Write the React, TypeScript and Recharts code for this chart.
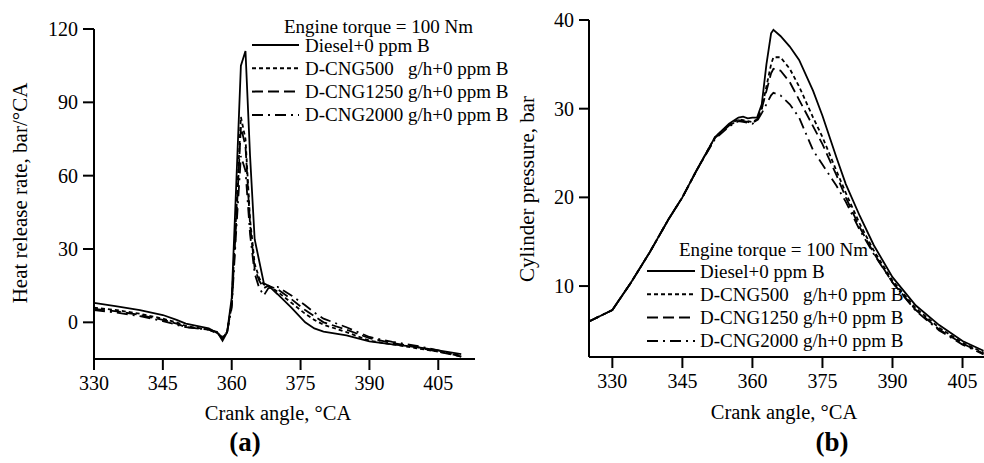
import React from 'react';
import { LineChart, Line, XAxis, YAxis } from 'recharts';

const SERIES_NAMES = [
  'Diesel+0 ppm B',
  'D-CNG500   g/h+0 ppm B',
  'D-CNG1250 g/h+0 ppm B',
  'D-CNG2000 g/h+0 ppm B',
];
const LEGEND_TITLE = 'Engine torque = 100 Nm';
const X_LABEL = 'Crank angle, °CA';
const HRR_Y_LABEL = 'Heat release rate, bar/°CA';
const P_Y_LABEL = 'Cylinder pressure, bar';

const CA_TICKS = [330, 345, 360, 375, 390, 405];
const HRR_TICKS = [0, 30, 60, 90, 120];
const P_TICKS = [10, 20, 30, 40];

// Heat release rate (a)
const HRR_CA = [330, 335, 340, 345, 348, 350, 355, 357, 358, 359, 360, 361, 362, 363, 364, 365, 366, 367, 368, 370, 373, 376, 378, 380, 385, 390, 395, 400, 405, 410];
const HRR_DIESEL = [8, 6.5, 5, 3, 1, -0.5, -2.5, -4.5, -7.5, -4, 10, 57, 105, 111, 68, 34, 25, 16, 15, 11.5, 6, 0, -2.5, -3.8, -5.3, -7.8, -9, -10, -11.5, -13];
const HRR_CNG500 = [6, 5, 3.5, 1.5, 0, -1.5, -3, -4.5, -6.5, -4, 8, 45, 84, 75, 42, 24, 18, 15.5, 15, 12.5, 8, 3.5, 1, -1, -4, -7.5, -9, -10.5, -12, -13.5];
const HRR_CNG1250 = [5.5, 4.5, 3, 1, -0.5, -2, -3, -4.5, -6.5, -4, 7, 42, 80, 72, 40, 22, 17, 14, 15, 13.5, 9.5, 5, 2.5, 0, -3, -6.5, -8.5, -10, -12, -14];
const HRR_CNG2000 = [5, 4, 2.5, 0.5, -1, -2, -3, -4, -6, -4, 6, 38, 68, 62, 36, 20, 14, 11, 14, 14.5, 11, 7, 4, 1.5, -2, -6, -8, -9.5, -11.5, -14];

// Cylinder pressure (b)
const P_CA = [325, 330, 334, 338, 342, 345, 348, 352, 355, 357, 358, 359, 360, 361, 362, 363, 364, 364.5, 366, 368, 370, 373, 375, 378, 380, 383, 386, 390, 395, 400, 405, 409.5];
const P_DIESEL = [6, 7.3, 10.4, 13.8, 17.5, 20, 23, 26.8, 28.3, 29, 29.1, 28.9, 29, 29, 30.5, 35, 38.5, 38.9, 38.2, 37, 35.5, 32, 29.2, 24.5, 21.5, 17.9, 14.6, 11, 7.8, 5.6, 3.8, 2.7];
const P_CNG500 = [6, 7.3, 10.4, 13.8, 17.5, 20, 23, 26.8, 28.2, 28.8, 28.7, 28.6, 28.5, 28.8, 30, 32.5, 35, 35.8, 35.8, 34.5, 32.5, 29, 26.8, 23, 20.5, 17, 14, 10.6, 7.5, 5.3, 3.6, 2.5];
const P_CNG1250 = [6, 7.3, 10.4, 13.8, 17.5, 20, 23, 26.7, 28.1, 28.7, 28.6, 28.5, 28.4, 28.7, 30, 32, 34, 34.5, 34.3, 33, 31, 28, 26, 22.5, 20, 16.6, 13.7, 10.4, 7.3, 5.1, 3.5, 2.4];
const P_CNG2000 = [6, 7.3, 10.4, 13.8, 17.5, 20, 23, 26.6, 28, 28.6, 28.5, 28.4, 28.3, 28.6, 29.5, 30.5, 31.5, 31.8, 31.5, 30.5, 29, 25.3, 23.7, 21.3, 19.5, 16.3, 13.6, 10.4, 7.2, 5, 3.4, 2.3];

const DASHES = ['', '4 3', '11 5', '11 5 2 5'];
const FONT = '"Liberation Serif", "Times New Roman", serif';
const INK = '#000';

const build = (angles: number[], vals: number[]) => angles.map((ca, i) => ({ ca, v: vals[i] }));

const HRR_SERIES = [HRR_DIESEL, HRR_CNG500, HRR_CNG1250, HRR_CNG2000].map((v) => build(HRR_CA, v));
const P_SERIES = [P_DIESEL, P_CNG500, P_CNG1250, P_CNG2000].map((v) => build(P_CA, v));

const tickStyle = { fill: INK, fontSize: 20, fontFamily: FONT };
const axisLineStyle = { stroke: INK, strokeWidth: 2 };

function Legend({ x, y, lineX1, lineX2, textX, rowStart, rowGap }: any) {
  return (
    <g>
      <text x={x} y={y} dominantBaseline="central" fontSize={19} fontFamily={FONT} fill={INK}>
        {LEGEND_TITLE}
      </text>
      {SERIES_NAMES.map((name, i) => {
        const ry = rowStart + i * rowGap;
        return (
          <g key={name}>
            <line x1={lineX1} x2={lineX2} y1={ry} y2={ry} stroke={INK} strokeWidth={2} strokeDasharray={DASHES[i] || undefined} />
            <text x={textX} y={ry} dominantBaseline="central" fontSize={19} fontFamily={FONT} fill={INK} style={{ whiteSpace: 'pre' }}>
              {name}
            </text>
          </g>
        );
      })}
    </g>
  );
}

export default function App() {
  return (
    <div style={{ position: 'absolute', left: 0, top: 0, width: 984, height: 463, background: '#fff', overflow: 'hidden' }}>
      <div style={{ position: 'absolute', left: 0, top: 0 }}>
        <LineChart width={490} height={463} margin={{ top: 29, right: 15, bottom: 74, left: 34 }} style={{ fontFamily: FONT }}>
          <XAxis
            type="number"
            dataKey="ca"
            domain={[330, 413]}
            ticks={CA_TICKS}
            allowDataOverflow
            tick={tickStyle}
            tickSize={11}
            tickMargin={6}
            axisLine={axisLineStyle}
            tickLine={axisLineStyle}
            height={30}
          />
          <YAxis
            type="number"
            dataKey="v"
            domain={[-15, 120]}
            ticks={HRR_TICKS}
            allowDataOverflow
            tick={tickStyle}
            tickSize={11}
            tickMargin={5}
            axisLine={axisLineStyle}
            tickLine={axisLineStyle}
            width={60}
          />
          {HRR_SERIES.map((d, i) => (
            <Line
              key={i}
              data={d}
              dataKey="v"
              type="linear"
              stroke={INK}
              strokeWidth={1.8}
              strokeDasharray={DASHES[i] || undefined}
              dot={false}
              isAnimationActive={false}
            />
          ))}
        </LineChart>
      </div>
      <div style={{ position: 'absolute', left: 490, top: 0 }}>
        <LineChart width={494} height={463} margin={{ top: 20, right: 0, bottom: 76, left: 39 }} style={{ fontFamily: FONT }}>
          <XAxis
            type="number"
            dataKey="ca"
            domain={[325, 409.6]}
            ticks={CA_TICKS}
            allowDataOverflow
            tick={tickStyle}
            tickSize={11}
            tickMargin={6}
            axisLine={axisLineStyle}
            tickLine={axisLineStyle}
            height={30}
          />
          <YAxis
            type="number"
            dataKey="v"
            domain={[2, 40]}
            ticks={P_TICKS}
            allowDataOverflow
            tick={tickStyle}
            tickSize={10}
            tickMargin={5}
            axisLine={axisLineStyle}
            tickLine={axisLineStyle}
            width={60}
          />
          {P_SERIES.map((d, i) => (
            <Line
              key={i}
              data={d}
              dataKey="v"
              type="linear"
              stroke={INK}
              strokeWidth={1.8}
              strokeDasharray={DASHES[i] || undefined}
              dot={false}
              isAnimationActive={false}
            />
          ))}
        </LineChart>
      </div>
      <svg width={984} height={463} style={{ position: 'absolute', left: 0, top: 0, pointerEvents: 'none' }}>
        <Legend x={284} y={26} lineX1={252} lineX2={299} textX={305} rowStart={45} rowGap={23.3} />
        <Legend x={679} y={249} lineX1={647} lineX2={695} textX={700} rowStart={271} rowGap={23.3} />
        <text x={20} y={193} transform="rotate(-90 20 193)" textAnchor="middle" dominantBaseline="central" fontSize={21} fontFamily={FONT} fill={INK}>
          {HRR_Y_LABEL}
        </text>
        <text x={527} y={189} transform="rotate(-90 527 189)" textAnchor="middle" dominantBaseline="central" fontSize={21} fontFamily={FONT} fill={INK}>
          {P_Y_LABEL}
        </text>
        <text x={278} y={413} textAnchor="middle" dominantBaseline="central" fontSize={20.5} fontFamily={FONT} fill={INK}>
          {X_LABEL}
        </text>
        <text x={784} y={412} textAnchor="middle" dominantBaseline="central" fontSize={20.5} fontFamily={FONT} fill={INK}>
          {X_LABEL}
        </text>
        <text x={245} y={442} textAnchor="middle" dominantBaseline="central" fontSize={27} fontWeight="bold" fontFamily={FONT} fill={INK}>
          (a)
        </text>
        <text x={832} y={442} textAnchor="middle" dominantBaseline="central" fontSize={27} fontWeight="bold" fontFamily={FONT} fill={INK}>
          (b)
        </text>
      </svg>
    </div>
  );
}
